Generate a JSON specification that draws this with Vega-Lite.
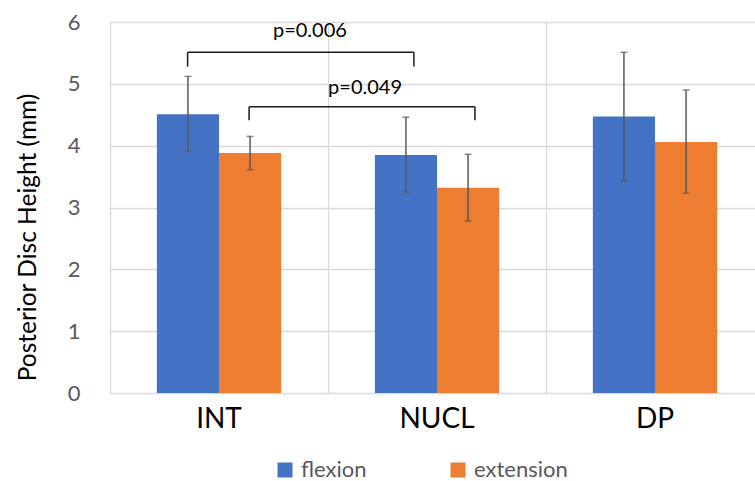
{
  "$schema": "https://vega.github.io/schema/vega-lite/v6.json",
  "width": 645,
  "height": 371,
  "autosize": {"type": "none"},
  "padding": {"left": 110, "top": 22, "right": 0, "bottom": 88},
  "config": {
    "font": "Lato",
    "view": {"stroke": null}
  },
  "datasets": {
    "bars": [
      {"cat": "INT", "series": "flexion", "value": 4.51, "lo": 3.92, "hi": 5.12},
      {"cat": "INT", "series": "extension", "value": 3.88, "lo": 3.61, "hi": 4.15},
      {"cat": "NUCL", "series": "flexion", "value": 3.85, "lo": 3.25, "hi": 4.46},
      {"cat": "NUCL", "series": "extension", "value": 3.32, "lo": 2.78, "hi": 3.86},
      {"cat": "DP", "series": "flexion", "value": 4.47, "lo": 3.43, "hi": 5.51},
      {"cat": "DP", "series": "extension", "value": 4.06, "lo": 3.23, "hi": 4.9}
    ],
    "brackets": [
      {"x": 0.356, "x2": 1.394, "y": 5.51, "y2": 5.51},
      {"x": 0.356, "x2": 0.356, "y": 5.51, "y2": 5.28},
      {"x": 1.394, "x2": 1.394, "y": 5.51, "y2": 5.28},
      {"x": 0.638, "x2": 1.674, "y": 4.63, "y2": 4.63},
      {"x": 0.638, "x2": 0.638, "y": 4.63, "y2": 4.41},
      {"x": 1.674, "x2": 1.674, "y": 4.63, "y2": 4.41}
    ],
    "labels": [
      {"x": 0.917, "y": 5.85, "label": "p=0.006"},
      {"x": 1.17, "y": 4.93, "label": "p=0.049"}
    ]
  },
  "layer": [
    {
      "data": {"name": "bars"},
      "layer": [
        {
          "mark": {"type": "bar"},
          "encoding": {
            "x": {
              "field": "cat", "type": "nominal", "sort": ["INT", "NUCL", "DP"],
              "scale": {"paddingInner": 0.43, "paddingOuter": 0.215, "range": [0, 654]},
              "axis": {"title": null, "labelAngle": 0, "labelFontSize": 28, "labelColor": "#000000", "labelPadding": 12, "ticks": false, "domain": false, "grid": false}
            },
            "xOffset": {"field": "series", "type": "nominal", "sort": ["flexion", "extension"]},
            "y": {
              "field": "value", "type": "quantitative",
              "title": "Posterior Disc Height (mm)",
              "scale": {"domain": [0, 6], "nice": false},
              "axis": {"values": [0, 1, 2, 3, 4, 5, 6], "format": "d", "ticks": false, "domain": false, "gridColor": "#d9d9d9", "gridWidth": 1.3, "labelFontSize": 22, "labelColor": "#595959", "labelPadding": 30, "titleFontSize": 24.5, "titleFontWeight": "normal", "titleColor": "#000000", "titleX": -70, "titleY": 215, "titleBaseline": "bottom", "titleAngle": 270}
            },
            "color": {
              "field": "series", "type": "nominal",
              "scale": {"domain": ["flexion", "extension"], "range": ["#4472C4", "#ED7D31"]},
              "legend": {"title": null, "orient": "none", "legendX": 164, "legendY": 437, "direction": "horizontal", "symbolType": "square", "symbolSize": 225, "symbolStrokeWidth": 0, "labelFontSize": 22, "labelOffset": 5, "labelColor": "#595959", "columnPadding": 80, "padding": 0}
            }
          }
        },
        {
          "mark": {"type": "rule", "color": "#595959", "strokeWidth": 1.5},
          "encoding": {
            "x": {"field": "cat", "type": "nominal", "sort": ["INT", "NUCL", "DP"]},
            "xOffset": {"field": "series", "type": "nominal", "sort": ["flexion", "extension"]},
            "y": {"field": "lo", "type": "quantitative", "title": "Posterior Disc Height (mm)"},
            "y2": {"field": "hi"}
          }
        },
        {
          "mark": {"type": "tick", "color": "#595959", "size": 7, "thickness": 1.5},
          "encoding": {
            "x": {"field": "cat", "type": "nominal", "sort": ["INT", "NUCL", "DP"]},
            "xOffset": {"field": "series", "type": "nominal", "sort": ["flexion", "extension"]},
            "y": {"field": "lo", "type": "quantitative", "title": "Posterior Disc Height (mm)"}
          }
        },
        {
          "mark": {"type": "tick", "color": "#595959", "size": 7, "thickness": 1.5},
          "encoding": {
            "x": {"field": "cat", "type": "nominal", "sort": ["INT", "NUCL", "DP"]},
            "xOffset": {"field": "series", "type": "nominal", "sort": ["flexion", "extension"]},
            "y": {"field": "hi", "type": "quantitative", "title": "Posterior Disc Height (mm)"}
          }
        }
      ]
    },
    {
      "layer": [
        {
          "data": {"name": "brackets"},
          "mark": {"type": "rule", "color": "#1a1a1a", "strokeWidth": 1.5},
          "encoding": {
            "x": {
              "field": "x", "type": "quantitative",
              "scale": {"domain": [0, 3], "nice": false, "zero": false, "range": [0, 654]},
              "axis": {"orient": "top", "title": null, "values": [0, 1, 2, 3], "labels": false, "ticks": false, "domain": false, "grid": true, "gridColor": "#d9d9d9", "gridWidth": 1.3}
            },
            "x2": {"field": "x2"},
            "y": {"field": "y", "type": "quantitative", "title": "Posterior Disc Height (mm)"},
            "y2": {"field": "y2"}
          }
        },
        {
          "data": {"name": "labels"},
          "mark": {"type": "text", "fontSize": 20, "color": "#000000", "baseline": "middle", "align": "center"},
          "encoding": {
            "x": {"field": "x", "type": "quantitative"},
            "y": {"field": "y", "type": "quantitative", "title": "Posterior Disc Height (mm)"},
            "text": {"field": "label", "type": "nominal"}
          }
        }
      ]
    }
  ],
  "resolve": {"scale": {"x": "independent"}}
}
